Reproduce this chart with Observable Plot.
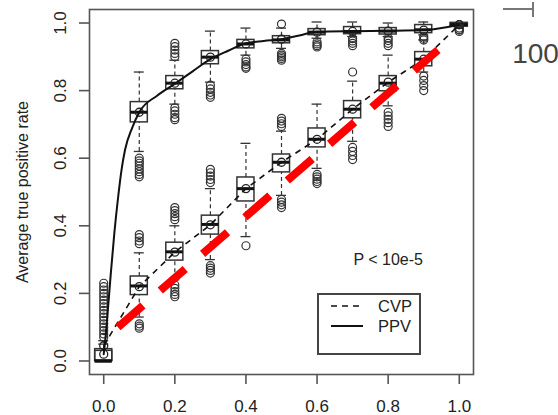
<!DOCTYPE html>
<html><head><meta charset="utf-8">
<script src="https://cdn.jsdelivr.net/npm/d3@7"></script>
<script src="https://cdn.jsdelivr.net/npm/@observablehq/plot@0.6"></script>
<style>
body{margin:0;background:#fff;}
#wrap{position:relative;width:558px;height:415px;font-family:"Liberation Sans",Arial,sans-serif;color:#222;}
#legend{position:absolute;left:317px;top:293px;width:104px;height:62px;border:2px solid #444;box-sizing:border-box;background:#fff;}
#legend .lab{position:absolute;left:59px;font-size:16.5px;line-height:20px;}
.deco{position:absolute;background:#777;}
</style></head><body><div id="wrap"></div>
<script>
// categories (x positions of the boxplots)
const xs = [0, 0.1, 0.2, 0.3, 0.4, 0.5, 0.6, 0.7, 0.8, 0.9, 1.0];
const xTicks = [0, 0.2, 0.4, 0.6, 0.8, 1.0];
const yTicks = [0, 0.2, 0.4, 0.6, 0.8, 1.0];

// PPV boxplot statistics
const ppvQ1   = [0.0,   0.706, 0.804, 0.878, 0.925, 0.940, 0.964, 0.967, 0.966, 0.970, 0.990];
const ppvMed  = [0.0,   0.736, 0.822, 0.899, 0.938, 0.950, 0.973, 0.975, 0.976, 0.980, 0.995];
const ppvQ3   = [0.03,  0.766, 0.843, 0.917, 0.950, 0.961, 0.982, 0.988, 0.985, 0.994, 1.0];
const ppvLo   = [0.0,   0.62,  0.76,  0.825, 0.905, 0.925, 0.955, 0.960, 0.960, 0.965, 0.985];
const ppvHi   = [0.06,  0.855, 0.89,  0.976, 0.985, 0.985, 1.003, 1.003, 1.0,   1.003, 1.0];
const ppvMean = [0.02,  0.736, 0.822, 0.899, 0.938, 0.952, 0.973, 0.975, 0.976, 0.979, 0.995];
const ppvOutliers = [
  [0,   [0.07,0.08,0.09,0.10,0.11,0.12,0.13,0.14,0.15,0.16,0.17,0.18,0.19,0.20,0.21,0.22,0.23]],
  [0.1, [0.60,0.592,0.585,0.577,0.568,0.56,0.552,0.545]],
  [0.2, [0.94,0.93,0.92,0.91,0.90,0.749,0.74,0.73,0.72,0.714]],
  [0.3, [0.816,0.805,0.795,0.787,0.78]],
  [0.4, [0.893,0.885,0.877,0.87,0.866]],
  [0.5, [0.997,0.91,0.905,0.90,0.895,0.89]],
  [0.6, [0.944,0.938,0.933,0.929]],
  [0.7, [0.954,0.947,0.94,0.933]],
  [0.8, [0.955,0.948,0.94,0.933]],
  [0.9, [0.96,0.955,0.95]],
  [1.0, [0.975,0.98,0.985]]
];
// PPV fitted curve
const ppvCurveX = [0, 0.005, 0.01, 0.02, 0.03, 0.04, 0.05, 0.06, 0.08, 0.1, 0.15, 0.2, 0.25, 0.3, 0.35, 0.4, 0.45, 0.5, 0.55, 0.6, 0.7, 0.8, 0.9, 1.0];
const ppvCurveY = [0.02, 0.07, 0.13, 0.26, 0.38, 0.48, 0.565, 0.625, 0.69, 0.736, 0.785, 0.82, 0.857, 0.893, 0.918, 0.94, 0.947, 0.952, 0.963, 0.974, 0.976, 0.977, 0.979, 0.995];

// CVP boxplot statistics
const cvpQ1   = [0.0,   0.195, 0.297, 0.374, 0.472, 0.558, 0.632, 0.718, 0.798, 0.872, 0.990];
const cvpMed  = [0.0,   0.222, 0.323, 0.404, 0.510, 0.588, 0.656, 0.745, 0.822, 0.893, 0.995];
const cvpQ3   = [0.035, 0.250, 0.350, 0.430, 0.543, 0.611, 0.688, 0.769, 0.843, 0.914, 1.0];
const cvpLo   = [0.0,   0.13,  0.24,  0.30,  0.368, 0.49,  0.57,  0.65,  0.755, 0.855, 0.985];
const cvpHi   = [0.05,  0.32,  0.40,  0.51,  0.644, 0.68,  0.76,  0.828, 0.905, 0.95,  1.0];
const cvpMean = [0.045, 0.22,  0.322, 0.403, 0.51,  0.588, 0.656, 0.745, 0.825, 0.893, 0.995];
const cvpOutliers = [
  [0.1, [0.374,0.365,0.355,0.347,0.11,0.103,0.097]],
  [0.2, [0.454,0.445,0.436,0.427,0.418,0.225,0.215,0.205,0.197,0.19]],
  [0.3, [0.567,0.557,0.547,0.537,0.528,0.282,0.275,0.268,0.26]],
  [0.4, [0.341]],
  [0.5, [0.718,0.71,0.702,0.694,0.478,0.47,0.462,0.454]],
  [0.6, [0.552,0.545,0.538,0.531,0.525]],
  [0.7, [0.855,0.632,0.62,0.608,0.596]],
  [0.8, [0.736,0.725,0.715,0.705,0.694]],
  [0.9, [0.843,0.83,0.815,0.80]],
  [1.0, [0.98]]
];

// red overlay line
const redX = [0.04, 0.94];
const redY = [0.10, 0.92];

// annotations
const pLabel = ["P < 10e-5"];
const pX = [0.8];
const pY = [0.3];
const yTitle = "Average true positive rate";
const legendLabels = ["CVP", "PPV"];
const cornerLabel = "100";

// ---- build tables ----
const rows = (q1, med, q3, lo, hi, mean) => xs.map((x, i) => ({x, q1: q1[i], med: med[i], q3: q3[i], lo: lo[i], hi: hi[i], mean: mean[i]}));
const ppv = rows(ppvQ1, ppvMed, ppvQ3, ppvLo, ppvHi, ppvMean);
const cvp = rows(cvpQ1, cvpMed, cvpQ3, cvpLo, cvpHi, cvpMean);
const boxes = [...ppv, ...cvp];
const outs = [...ppvOutliers, ...cvpOutliers].flatMap(([x, ys]) => ys.map(y => ({x, y})));
const curve = ppvCurveX.map((x, i) => ({x, y: ppvCurveY[i]}));
const red = redX.map((x, i) => ({x, y: redY[i]}));
const ptext = pLabel.map((t, i) => ({t, x: pX[i], y: pY[i]}));

const bh = 0.024, ch = 0.014;
const fmt = d3.format(".1f");
const ink = "#222", frameCol = "#555";

const chart = Plot.plot({
  width: 558, height: 415,
  marginLeft: 89, marginRight: 85, marginTop: 9, marginBottom: 41,
  x: {domain: [-0.04, 1.04]},
  y: {domain: [-0.04, 1.04]},
  style: {fontFamily: '"Liberation Sans", Arial, sans-serif', fontSize: "17px", color: ink, background: "#fff", overflow: "visible"},
  marks: [
    Plot.frame({stroke: frameCol, strokeWidth: 1.6}),
    Plot.axisX({ticks: xTicks, tickSize: 10, tickPadding: 15, tickFormat: fmt, label: null, stroke: frameCol, strokeWidth: 1.6, fontSize: 17}),
    Plot.axisY({ticks: yTicks, tickSize: 10, tickFormat: () => "", label: null, stroke: frameCol, strokeWidth: 1.6}),
    Plot.text(yTicks, {y: d => d, text: d => fmt(d), frameAnchor: "left", textAnchor: "middle", lineAnchor: "middle", dx: -29, rotate: -90, fontSize: 17, fill: ink}),
    Plot.text([yTitle], {text: d => d, frameAnchor: "left", textAnchor: "middle", lineAnchor: "middle", dx: -67, rotate: -90, fontSize: 16, fill: ink}),
    // boxplots
    Plot.ruleX(boxes, {x: "x", y1: "q3", y2: "hi", stroke: "#333", strokeWidth: 1.2, strokeDasharray: "4,3"}),
    Plot.ruleX(boxes, {x: "x", y1: "lo", y2: "q1", stroke: "#333", strokeWidth: 1.2, strokeDasharray: "4,3"}),
    Plot.ruleY(boxes, {y: "hi", x1: d => d.x - ch, x2: d => d.x + ch, stroke: "#333", strokeWidth: 1.3}),
    Plot.ruleY(boxes, {y: "lo", x1: d => d.x - ch, x2: d => d.x + ch, stroke: "#333", strokeWidth: 1.3}),
    Plot.rect(boxes, {x1: d => d.x - bh, x2: d => d.x + bh, y1: "q1", y2: "q3", fill: "none", stroke: "#333", strokeWidth: 1.5}),
    Plot.ruleY(boxes, {y: "med", x1: d => d.x - bh, x2: d => d.x + bh, stroke: "#111", strokeWidth: 3}),
    Plot.dot(outs, {x: "x", y: "y", r: 4, stroke: "#333", strokeWidth: 1.2, fill: "none"}),
    Plot.dot(boxes, {x: "x", y: "mean", r: 4, stroke: "#222", strokeWidth: 1.3, fill: "none"}),
    // lines
    Plot.line(curve, {x: "x", y: "y", curve: "monotone-x", stroke: "#111", strokeWidth: 2}),
    Plot.line(cvp, {x: "x", y: "mean", stroke: "#111", strokeWidth: 1.6, strokeDasharray: "6,5", strokeLinecap: "butt"}),
    Plot.line(red, {x: "x", y: "y", stroke: "#ff0000", strokeWidth: 8, strokeDasharray: "33,23", strokeLinecap: "butt"}),
    Plot.text(ptext, {x: "x", y: "y", text: "t", fontSize: 16, fill: ink}),
    Plot.text([cornerLabel], {text: d => d, frameAnchor: "top-right", dx: 62, dy: 45, textAnchor: "middle", lineAnchor: "middle", fontSize: 28, fill: "#444"})
  ]
});
const wrap = document.getElementById("wrap");
wrap.appendChild(chart);

// legend
const leg = document.createElement("div");
leg.id = "legend";
const dashes = ["6,5", null];
legendLabels.forEach((lab, i) => {
  const top = 10 + i * 20;
  const svg = document.createElementNS("http://www.w3.org/2000/svg", "svg");
  svg.setAttribute("width", "40"); svg.setAttribute("height", "20");
  svg.style.position = "absolute"; svg.style.left = "10px"; svg.style.top = (top - 10 + 1) + "px";
  const ln = document.createElementNS("http://www.w3.org/2000/svg", "line");
  ln.setAttribute("x1", "2"); ln.setAttribute("x2", "34"); ln.setAttribute("y1", "10"); ln.setAttribute("y2", "10");
  ln.setAttribute("stroke", "#111"); ln.setAttribute("stroke-width", dashes[i] ? "1.6" : "2");
  if (dashes[i]) ln.setAttribute("stroke-dasharray", dashes[i]);
  svg.appendChild(ln);
  leg.appendChild(svg);
  const t = document.createElement("div");
  t.className = "lab"; t.textContent = lab; t.style.top = (top - 10 + 1) + "px";
  leg.appendChild(t);
});
wrap.appendChild(leg);

// fragment of neighbouring panel axis (top right corner)
const h = document.createElement("div"); h.className = "deco";
Object.assign(h.style, {left: "503px", top: "8px", width: "30px", height: "2px"});
const v = document.createElement("div"); v.className = "deco";
Object.assign(v.style, {left: "532px", top: "2px", width: "2px", height: "15px"});
wrap.appendChild(h); wrap.appendChild(v);
</script>
</body></html>
